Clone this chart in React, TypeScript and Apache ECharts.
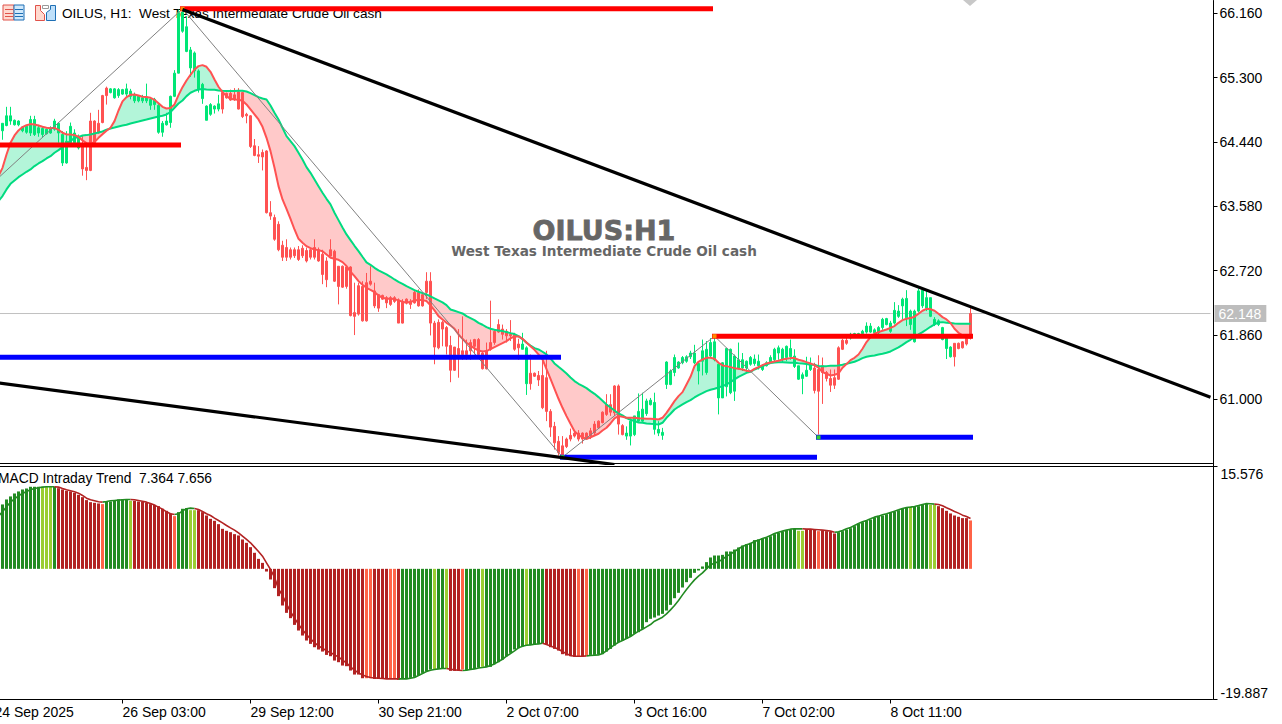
import React, { useEffect, useRef } from "react";
import * as echarts from "echarts";

const FONT = "'Liberation Sans', Arial, sans-serif";
const BULL = "#00E676";
const BEAR = "#FF5252";
const SLOTS = 308;
const FIRST = 4;

const timeTicks: [number, string][] = [
  [3, "24 Sep 2025"], [35, "26 Sep 03:00"], [67, "29 Sep 12:00"], [99, "30 Sep 21:00"],
  [131, "2 Oct 07:00"], [163, "3 Oct 16:00"], [195, "7 Oct 02:00"], [227, "8 Oct 11:00"],
];
const priceTicks = [66.16, 65.3, 64.44, 63.58, 62.72, 61.86, 61.0];
const macdTicks = [-19.887, 15.576];
const lastPrice = 62.148;

// open, close, low, high
const ohlc = [
[64.43,64.52,64.40,64.56],[64.59,64.69,64.47,64.69],[64.66,64.79,64.65,64.91],[64.72,64.79,64.67,64.91],[64.67,64.73,64.66,64.74],[64.67,64.72,64.65,64.73],[64.59,64.64,64.57,64.65],[64.57,64.65,64.55,64.66],[64.56,64.74,64.52,64.79],[64.54,64.74,64.52,64.79],
[64.56,64.63,64.51,64.67],[64.54,64.62,64.50,64.65],[64.55,64.61,64.54,64.62],[64.56,64.63,64.55,64.65],[64.61,64.72,64.59,64.75],[64.56,64.69,64.43,64.70],[64.16,64.54,64.12,64.585],[64.16,64.45,64.15,64.585],[64.43,64.65,64.385,64.70],[64.43,64.56,64.41,64.61],
[64.36,64.52,64.34,64.54],[64.385,64.08,63.99,64.52],[64.10,64.06,63.93,64.385],[64.06,64.72,64.05,64.83],[64.43,64.72,64.42,64.73],[64.56,64.69,64.55,64.87],[64.70,65.06,64.69,65.07],[65.06,65.16,64.94,65.18],[65.10,65.15,65.09,65.16],[65.03,65.15,65.02,65.16],
[65.06,65.14,65.03,65.16],[65.08,65.14,65.07,65.15],[65.08,65.15,65.03,65.22],[65.05,65.12,65.01,65.15],[64.99,65.07,64.96,65.10],[64.99,65.05,64.97,65.06],[64.99,65.03,64.96,65.07],[64.99,65.04,64.96,65.22],[64.93,65.01,64.87,65.04],[64.94,65.01,64.87,65.03],
[64.57,64.93,64.55,64.96],[64.57,64.69,64.51,64.72],[64.67,64.72,64.66,64.83],[64.70,65.05,64.63,65.06],[65.05,65.36,65.04,65.40],[65.36,66.17,65.356,66.21],[65.92,66.17,65.90,66.22],[65.65,65.98,65.64,66.12],[65.43,65.67,65.31,65.71],[65.39,65.63,65.30,65.65],
[65.14,65.39,65.10,65.41],[65.02,65.21,64.95,65.23],[64.73,64.92,64.73,64.93],[64.81,64.94,64.79,64.96],[64.88,64.92,64.82,64.93],[64.88,64.95,64.85,65.07],[64.88,65.10,64.82,65.12],[65.03,65.09,65.02,65.10],[65.0,65.09,64.99,65.14],[65.01,65.07,64.99,65.16],
[64.88,65.11,64.875,65.16],[64.78,65.10,64.76,65.11],[64.79,64.81,64.69,64.83],[64.38,64.79,64.36,64.80],[64.26,64.39,64.25,64.48],[64.25,64.27,64.16,64.385],[64.24,64.30,64.06,64.34],[63.495,64.32,63.485,64.33],[63.45,63.495,63.40,63.65],[63.14,63.43,63.12,63.47],
[63.0,63.34,62.98,63.38],[62.90,63.06,62.85,63.12],[62.90,63.03,62.85,63.14],[62.90,63.0,62.87,63.03],[62.92,63.0,62.89,63.03],[62.87,63.0,62.85,63.05],[62.92,63.02,62.89,63.06],[62.85,62.99,62.83,63.03],[62.90,63.0,62.87,63.02],[62.90,63.03,62.87,63.14],
[62.85,63.0,62.84,63.03],[62.67,62.94,62.54,63.0],[62.60,62.85,62.50,62.90],[62.915,63.0,62.91,63.14],[62.58,62.98,62.57,63.0],[62.51,62.78,62.27,62.78],[62.50,62.78,62.49,62.79],[62.51,62.77,62.48,62.78],[62.12,62.77,62.11,62.78],[62.11,62.16,61.86,62.56],
[62.14,62.52,62.12,62.56],[62.05,62.51,62.04,62.58],[62.05,62.56,62.04,62.69],[62.54,62.58,62.52,62.78],[62.25,62.45,62.22,62.56],[62.22,62.40,62.17,62.41],[62.34,62.39,62.33,62.40],[62.29,62.36,62.22,62.38],[62.27,62.36,62.25,62.38],[62.31,62.36,62.29,62.38],
[62.02,62.33,62.02,62.35],[62.02,62.30,62.015,62.34],[62.29,62.34,62.27,62.35],[62.27,62.31,62.21,62.34],[62.29,62.43,62.28,62.45],[62.25,62.43,62.24,62.47],[62.25,62.40,62.24,62.43],[62.43,62.58,62.34,62.70],[62.02,62.58,61.855,62.70],[61.70,62.02,61.47,62.05],
[61.69,62.03,61.67,62.07],[61.94,62.03,61.71,62.05],[61.71,61.96,61.60,61.98],[61.39,61.72,61.23,61.85],[61.39,61.70,61.38,61.70],[61.60,61.68,61.29,61.94],[61.60,61.65,61.53,62.11],[61.60,61.65,61.53,61.80],[61.65,61.76,61.53,61.80],[61.71,61.80,61.60,61.81],
[61.60,61.80,61.58,61.82],[61.41,61.62,61.40,61.65],[61.41,61.65,61.40,61.76],[61.67,61.76,61.65,62.32],[61.76,61.91,61.73,61.94],[61.90,62.0,61.89,62.07],[61.87,61.94,61.80,62.0],[61.85,61.91,61.76,61.94],[61.85,61.87,61.78,62.06],[61.67,61.87,61.65,61.89],
[61.69,61.74,61.53,61.81],[61.67,61.74,61.67,61.89],[61.21,61.69,61.06,61.71],[61.21,61.35,61.13,61.60],[61.31,61.35,61.30,61.36],[61.26,61.32,61.18,61.38],[60.89,61.32,60.87,61.56],[60.84,61.29,60.71,61.65],[60.63,60.84,60.50,60.87],[60.42,60.64,60.33,60.70],
[60.29,60.44,60.25,60.51],[60.26,60.38,60.24,60.51],[60.37,60.47,60.35,60.49],[60.47,60.52,60.44,60.61],[60.51,60.55,60.49,60.58],[60.47,60.55,60.44,60.59],[60.47,60.55,60.41,60.56],[60.47,60.55,60.46,60.56],[60.51,60.58,60.47,60.62],[60.55,60.67,60.51,60.71],
[60.62,60.71,60.61,60.72],[60.69,60.83,60.68,60.84],[60.80,60.93,60.78,61.07],[60.83,60.93,60.78,61.07],[60.82,61.18,60.78,61.19],[60.67,61.18,60.53,61.20],[60.53,60.65,60.52,60.67],[60.51,60.55,60.46,60.64],[60.51,60.71,60.385,60.75],[60.53,60.78,60.51,60.78],
[60.71,60.84,60.70,61.08],[60.71,60.87,60.70,61.09],[60.81,60.98,60.78,61.01],[60.93,60.99,60.92,61.02],[60.60,60.96,60.53,61.09],[60.55,60.60,60.51,60.71],[60.52,60.56,60.46,60.62],[61.20,61.50,61.14,61.51],[61.20,61.38,61.19,61.40],[61.36,61.56,61.31,61.60],
[61.42,61.50,61.41,61.51],[61.49,61.56,61.47,61.58],[61.51,61.57,61.49,61.59],[61.57,61.62,61.54,61.65],[61.49,61.62,61.47,61.73],[61.38,61.48,61.20,61.51],[61.51,61.65,61.32,61.80],[61.36,61.67,61.33,61.78],[61.58,61.76,61.56,61.82],[61.53,61.77,61.51,61.82],
[61.02,61.47,60.80,61.48],[61.02,61.49,61.02,61.50],[61.17,61.68,61.04,61.69],[61.09,61.67,61.07,61.68],[61.11,61.58,60.98,61.60],[61.42,61.53,61.40,61.76],[61.42,61.53,61.38,61.62],[61.42,61.51,61.36,61.52],[61.47,61.56,61.45,61.58],[61.48,61.54,61.45,61.60],
[61.45,61.51,61.40,61.60],[61.40,61.45,61.38,61.47],[61.45,61.49,61.44,61.51],[61.50,61.56,61.48,61.59],[61.53,61.67,61.49,61.69],[61.62,61.69,61.53,61.72],[61.53,61.67,61.49,61.69],[61.56,61.71,61.51,61.72],[61.57,61.68,61.53,61.80],[61.44,61.58,61.42,61.67],
[61.27,61.45,61.26,61.45],[61.28,61.33,61.07,61.36],[61.31,61.39,61.30,61.57],[61.40,61.48,61.38,61.56],[61.12,61.42,61.08,61.49],[61.11,61.40,60.53,61.59],[61.36,61.45,60.94,61.56],[61.28,61.36,61.24,61.38],[61.19,61.28,61.10,61.40],[61.19,61.29,61.14,61.40],
[61.27,61.69,61.26,61.71],[61.67,61.79,61.66,61.81],[61.75,61.79,61.73,61.87],[61.82,61.87,61.80,61.89],[61.85,61.88,61.84,61.89],[61.85,61.88,61.84,61.89],[61.88,61.91,61.87,61.93],[61.90,61.98,61.88,62.03],[61.90,61.98,61.89,62.02],[61.89,61.93,61.88,61.95],
[61.89,61.96,61.87,61.98],[61.96,62.07,61.93,62.09],[62.0,62.08,61.99,62.09],[61.91,62.02,61.89,62.05],[62.02,62.19,62.0,62.30],[62.11,62.18,62.09,62.26],[62.25,62.34,62.07,62.36],[62.09,62.35,61.98,62.46],[62.0,62.18,61.93,62.20],[61.77,62.18,61.76,62.20],
[62.18,62.45,62.16,62.48],[62.25,62.46,62.22,62.47],[62.22,62.36,62.18,62.45],[62.11,62.36,62.10,62.36],[62.0,62.07,61.98,62.10],[62.0,62.05,61.98,62.07],[61.80,61.96,61.79,61.97],[61.68,61.82,61.54,61.82],[61.57,61.70,61.56,61.71],[61.57,61.75,61.44,61.75],
[61.68,61.75,61.67,61.76],[61.69,61.77,61.68,61.78],[61.74,61.82,61.72,61.85],[61.82,62.148,61.80,62.22],
];

const fastMa = [
63.984,64.095,64.273,64.429,64.527,64.594,64.639,64.665,64.679,64.674,64.661,64.643,64.630,64.625,64.630,64.603,64.563,64.541,64.541,64.532,64.510,64.461,64.425,64.416,64.438,64.496,64.545,64.590,64.630,64.719,
64.861,64.982,65.040,65.071,65.075,65.062,65.044,65.040,65.031,65.004,64.959,64.910,64.888,64.893,64.942,65.066,65.173,65.262,65.338,65.409,65.454,65.467,65.445,65.378,65.276,65.178,65.107,65.053,65.017,65.008,
65.004,64.991,64.942,64.875,64.808,64.741,64.643,64.496,64.318,64.095,63.850,63.672,63.547,63.414,63.271,63.146,63.093,63.048,63.022,63.004,62.995,62.981,62.937,62.893,62.880,62.866,62.835,62.782,62.706,62.648,
62.581,62.532,62.492,62.465,62.434,62.390,62.358,62.345,62.345,62.341,62.323,62.305,62.292,62.305,62.318,62.332,62.327,62.314,62.256,62.189,62.113,62.069,62.024,61.989,61.944,61.868,61.810,61.757,61.721,61.681,
61.654,61.641,61.646,61.672,61.699,61.726,61.752,61.779,61.815,61.842,61.842,61.810,61.761,61.712,61.663,61.601,61.534,61.405,61.276,61.142,61.009,60.888,60.777,60.674,60.576,60.523,60.492,60.474,60.492,60.518,
60.541,60.585,60.621,60.679,60.746,60.777,60.768,60.755,60.755,60.755,60.750,60.746,60.741,60.741,60.737,60.732,60.755,60.821,60.897,60.977,61.044,61.098,61.200,61.302,61.445,61.503,61.534,61.556,61.556,61.543,
61.490,61.454,61.445,61.432,61.418,61.409,61.400,61.383,61.374,61.409,61.432,61.458,61.481,61.494,61.507,61.516,61.534,61.543,61.552,61.552,61.530,61.516,61.498,61.481,61.458,61.423,61.365,61.343,61.320,61.329,
61.347,61.423,61.472,61.525,61.556,61.601,61.677,61.766,61.833,61.877,61.899,61.917,61.935,61.957,61.980,62.024,62.060,62.078,62.087,62.104,62.144,62.185,62.211,62.207,62.185,62.144,62.100,62.069,62.022,61.944,
61.891,61.855,61.824,61.824,
];

const slowMa = [
63.650,63.717,63.806,63.881,63.926,63.970,64.006,64.042,64.073,64.118,64.153,64.184,64.220,64.251,64.296,64.331,64.371,64.416,64.456,64.492,64.505,64.527,64.532,64.541,64.554,64.567,64.581,64.603,64.621,64.634,
64.648,64.661,64.670,64.688,64.701,64.714,64.728,64.741,64.755,64.768,64.781,64.790,64.808,64.839,64.897,64.955,64.995,65.053,65.098,65.124,65.142,65.147,65.142,65.138,65.138,65.129,65.124,65.120,65.120,65.120,
65.124,65.124,65.115,65.093,65.066,65.040,65.022,65.008,64.928,64.830,64.741,64.630,64.518,64.452,64.385,64.296,64.207,64.104,64.028,63.939,63.850,63.761,63.681,63.606,63.494,63.396,63.298,63.205,63.129,63.053,
62.982,62.906,62.831,62.799,62.759,62.724,62.697,62.670,62.639,62.603,62.572,62.545,62.514,62.488,62.461,62.439,62.421,62.403,62.376,62.349,62.323,62.296,62.260,62.202,62.185,62.167,62.149,62.113,62.087,62.060,
62.024,61.998,61.966,61.944,61.931,61.922,61.913,61.900,61.886,61.873,61.846,61.806,61.757,61.721,61.686,61.668,61.637,61.601,61.548,61.481,61.436,61.392,61.347,61.294,61.245,61.209,61.182,61.151,61.111,61.075,
61.031,60.982,60.933,60.893,60.853,60.812,60.786,60.750,60.728,60.710,60.692,60.688,60.679,60.674,60.670,60.665,60.688,60.755,60.808,60.866,60.902,60.933,60.964,60.991,61.026,61.058,61.084,61.111,61.129,61.142,
61.160,61.178,61.200,61.231,61.267,61.302,61.329,61.356,61.369,61.400,61.423,61.445,61.467,61.485,61.494,61.498,61.498,61.494,61.490,61.490,61.485,61.481,61.472,61.463,61.463,61.445,61.445,61.445,61.450,61.450,
61.454,61.463,61.476,61.490,61.503,61.525,61.552,61.570,61.579,61.588,61.601,61.610,61.623,61.641,61.668,61.695,61.730,61.766,61.797,61.833,61.868,61.899,61.935,61.971,62.002,62.029,62.033,62.024,62.020,62.015,
62.011,62.011,62.011,62.011,
];

const macdHist = [
8.63,9.80,10.56,11.02,11.47,11.78,12.08,12.23,12.49,12.49,12.49,12.49,12.49,12.49,12.49,12.28,12.08,11.88,11.78,11.57,11.27,10.91,10.46,10.15,10.05,9.95,9.85,10.25,10.25,10.46,
10.56,10.56,10.56,10.36,10.36,10.25,10.25,10.05,9.85,9.75,9.54,9.14,8.83,8.43,8.02,8.63,9.14,9.24,8.93,8.93,8.93,8.63,8.12,7.61,7.31,6.80,6.09,5.79,5.58,5.28,
5.08,4.47,3.96,3.30,2.44,1.52,0.91,-0.41,-1.62,-2.94,-4.16,-5.58,-6.70,-7.51,-8.53,-9.39,-10.15,-10.91,-11.42,-11.93,-12.28,-12.59,-13.10,-13.30,-13.96,-14.21,-14.72,-14.82,-15.48,-16.09,
-16.09,-16.65,-16.65,-16.65,-16.75,-16.75,-16.75,-16.65,-16.65,-16.65,-16.90,-16.75,-16.75,-16.60,-16.45,-16.24,-15.84,-15.58,-15.33,-15.33,-15.23,-15.23,-15.13,-15.53,-15.53,-15.48,-15.33,-15.43,-15.33,-15.23,
-15.02,-14.92,-14.92,-14.92,-14.52,-14.21,-13.81,-13.30,-12.79,-12.28,-12.08,-11.83,-11.67,-11.57,-11.57,-11.42,-11.32,-11.57,-11.93,-12.18,-12.44,-12.99,-13.20,-13.30,-13.40,-13.40,-13.35,-13.20,-13.10,-13.10,
-12.99,-12.99,-12.59,-12.18,-11.67,-11.17,-10.91,-10.66,-10.25,-9.90,-9.64,-9.14,-8.12,-7.61,-7.41,-7.11,-6.85,-6.35,-5.48,-4.47,-3.65,-2.84,-2.03,-1.37,-0.61,-0.25,0.36,1.02,1.73,2.03,
2.03,2.13,2.64,2.64,2.94,3.25,3.55,3.76,3.96,4.37,4.47,4.67,4.77,4.97,5.28,5.48,5.69,5.89,5.99,6.09,5.79,5.79,5.99,5.99,5.99,5.74,5.84,5.74,5.63,5.38,
5.58,5.74,5.99,6.19,6.50,6.85,7.11,7.31,7.51,7.82,8.02,8.12,8.32,8.53,8.73,8.93,9.14,9.34,9.44,9.44,9.54,9.75,9.95,9.75,9.75,9.54,9.24,8.83,8.43,8.12,
7.92,7.72,7.72,7.364,
];

const macdSignal = [
8.02,8.68,9.44,10.15,10.66,11.12,11.47,11.78,12.03,12.23,12.33,12.44,12.49,12.49,12.49,12.44,12.23,12.03,11.88,11.73,11.52,11.17,10.76,10.51,10.36,10.20,10.15,10.25,10.36,10.41,
10.46,10.51,10.56,10.56,10.51,10.41,10.30,10.15,9.95,9.70,9.39,9.09,8.68,8.38,8.27,8.38,8.83,9.14,9.24,9.19,9.04,8.73,8.38,8.12,7.72,7.36,7.00,6.60,6.24,5.89,
5.48,4.97,4.47,3.96,3.30,2.64,1.93,0.91,-0.10,-1.27,-3.05,-4.06,-5.33,-6.50,-7.51,-8.43,-9.29,-10.00,-10.66,-11.22,-11.73,-12.08,-12.49,-12.74,-13.10,-13.40,-13.91,-14.31,-14.92,-15.43,
-15.84,-16.14,-16.40,-16.55,-16.60,-16.65,-16.70,-16.75,-16.75,-16.75,-16.75,-16.75,-16.75,-16.65,-16.55,-16.24,-15.94,-15.63,-15.43,-15.33,-15.23,-15.18,-15.18,-15.28,-15.38,-15.43,-15.48,-15.43,-15.33,-15.23,
-15.08,-15.02,-14.92,-14.72,-14.47,-14.11,-13.76,-13.30,-12.89,-12.49,-12.03,-11.78,-11.62,-11.57,-11.47,-11.42,-11.32,-11.52,-11.73,-11.98,-12.23,-12.59,-12.94,-13.20,-13.30,-13.30,-13.30,-13.25,-13.20,-13.15,
-13.10,-12.89,-12.49,-11.98,-11.57,-11.17,-10.91,-10.61,-10.30,-9.90,-9.49,-9.19,-8.83,-8.48,-7.97,-7.66,-7.36,-6.85,-6.24,-5.58,-4.82,-3.96,-3.15,-2.39,-1.68,-1.12,-0.61,0,0.61,0.86,
1.12,1.42,1.93,2.23,2.64,3.05,3.40,3.65,3.86,4.16,4.37,4.62,4.82,5.08,5.38,5.58,5.74,5.89,6.04,6.09,6.09,6.09,6.04,6.04,5.99,5.94,5.89,5.84,5.74,5.58,
5.63,5.84,6.09,6.29,6.60,6.90,7.16,7.36,7.61,7.87,8.02,8.22,8.38,8.58,8.78,8.98,9.19,9.34,9.39,9.49,9.64,9.80,9.95,9.90,9.85,9.80,9.59,9.29,9.04,8.73,
8.48,8.17,7.97,7.656,
];

// run lengths of histogram colour kinds: G forest, Y yellow-green, R firebrick, T tomato
const histKindRuns: [number, string][] = [
  [11,"G"],[3,"Y"],[1,"G"],[11,"R"],[1,"T"],[6,"G"],[1,"Y"],[10,"R"],[1,"T"],[3,"G"],[2,"Y"],[42,"R"],[2,"T"],[4,"R"],[2,"T"],[1,"R"],
  [8,"G"],[1,"Y"],[2,"G"],[1,"Y"],[3,"R"],[1,"T"],[4,"G"],[1,"Y"],[10,"G"],[1,"Y"],[4,"G"],[8,"R"],[1,"T"],[1,"R"],[1,"T"],[52,"G"],
  [2,"Y"],[3,"R"],[1,"T"],[4,"R"],[18,"G"],[1,"Y"],[4,"G"],[2,"Y"],[8,"R"],[1,"T"],
];
const histColors: Record<string, string> = { G: "#228B22", Y: "#9ACD32", R: "#B22222", T: "#FF6347" };

// horizontal levels: from slot, to slot, price, colour
const levels: [number, number, number, string][] = [
  [50, 182, 66.22, "#FF0000"],
  [0, 49, 64.4, "#FF0000"],
  [0, 144, 61.565, "#0000FF"],
  [183, 247, 61.845, "#FF0000"],
  [209, 247, 60.493, "#0000FF"],
  [145, 208, 60.228, "#0000FF"],
];
const trendLines: [number, number][][] = [
  [[50, 66.21], [307, 61.03]],
  [[0, 61.25], [158, 60.129]],
];
// zigzag: slot, price, marker colour
const zigzag: [number, number, string | null][] = [
  [0, 63.766, null], [50, 66.22, "#FF8C00"], [145, 60.228, "#32CD32"], [183, 61.845, "#FF8C00"], [209, 60.493, "#32CD32"],
];

const titleLine = "OILUS, H1:  West Texas Intermediate Crude Oil cash";
const macdLine = "MACD Intraday Trend  7.364 7.656";
const bigLabel = "OILUS:H1";
const subLabel = "West Texas Intermediate Crude Oil cash";

const categories: string[] = Array.from({ length: SLOTS }, (_, i) => {
  const t = timeTicks.find((x) => x[0] === i);
  return t ? t[1] : "";
});
const pad = (i: number, v: any) => [i + FIRST, v];

const histKinds: string[] = [];
histKindRuns.forEach(([n, k]) => { for (let i = 0; i < n; i++) histKinds.push(k); });
const isGreenKind = (k: string) => k === "G" || k === "Y";

// contiguous fast/slow runs for the band between the averages
type Run = { start: number; end: number; up: boolean };
const runs: Run[] = [];
fastMa.forEach((f, i) => {
  const up = f >= slowMa[i];
  const last = runs[runs.length - 1];
  if (last && last.up === up) last.end = i;
  else runs.push({ start: i, end: i, up });
});

function renderFill(params: any, api: any) {
  const run = runs[params.dataIndex];
  const F = (i: number) => api.coord([i + FIRST, fastMa[i]]);
  const S = (i: number) => api.coord([i + FIRST, slowMa[i]]);
  const cross = (i: number) => {
    const a = F(i), b = F(i + 1), c = S(i), d = S(i + 1);
    const d0 = a[1] - c[1], d1 = b[1] - d[1];
    const t = d0 / (d0 - d1);
    return [a[0] + (b[0] - a[0]) * t, a[1] + (b[1] - a[1]) * t];
  };
  const pts: number[][] = [];
  if (run.start > 0) pts.push(cross(run.start - 1));
  for (let i = run.start; i <= run.end; i++) pts.push(F(i));
  if (run.end < fastMa.length - 1) pts.push(cross(run.end));
  for (let i = run.end; i >= run.start; i--) pts.push(S(i));
  return {
    type: "polygon",
    shape: { points: pts },
    style: { fill: run.up ? "#B3F5D9" : "#FFC9C9", stroke: "none" },
    silent: true,
  };
}

export default function App() {
  const ref = useRef<HTMLDivElement>(null);
  useEffect(() => {
    document.body.style.margin = "0";
    document.body.style.overflow = "hidden";
    const chart = echarts.init(ref.current!, null, { renderer: "svg" });
    const X = (x: number) => x + 20;
    const showTick = (_: number, v: string) => v !== "";

    const candleData = ohlc.map((r, i) => {
      const col = fastMa[i] >= slowMa[i] ? BULL : BEAR;
      return {
        value: [i + FIRST, r[0], r[1], r[2], r[3]],
        itemStyle: { color: col, color0: col, borderColor: col, borderColor0: col },
      };
    });
    const greenSig = macdSignal.map((v, i) =>
      pad(i, isGreenKind(histKinds[i]) || (histKinds[i + 1] !== undefined && isGreenKind(histKinds[i + 1])) ? v : null));
    const redSig = macdSignal.map((v, i) =>
      pad(i, !isGreenKind(histKinds[i]) || (histKinds[i + 1] !== undefined && !isGreenKind(histKinds[i + 1])) ? v : null));

    const lineBase = { type: "line", showSymbol: false, symbol: "none", silent: true, smooth: false };
    const series: any[] = [
      {
        ...lineBase, name: "price", z: 1, clip: false,
        data: [[0, lastPrice], [SLOTS - 1, lastPrice]],
        lineStyle: { color: "#C0C0C0", width: 1 },
        endLabel: {
          show: true, distance: 4, formatter: lastPrice.toFixed(3), color: "#fff", fontFamily: FONT, fontSize: 14,
          backgroundColor: "#BDBDBD", padding: [2, 5, 1, 4],
        },
      },
      {
        type: "custom", name: "band", z: 1, renderItem: renderFill, silent: true,
        data: runs.map((_, i) => [i + FIRST, 62]), encode: { x: 0, y: 1 },
      },
      {
        type: "candlestick", name: "OILUS", z: 2, barWidth: 2, silent: true,
        encode: { x: 0, y: [1, 2, 3, 4] },
        itemStyle: { borderWidth: 1 },
        data: candleData,
      },
      { ...lineBase, name: "slow", z: 3, data: slowMa.map((v, i) => pad(i, v)), lineStyle: { color: "#00DB80", width: 2 } },
      { ...lineBase, name: "fast", z: 3, data: fastMa.map((v, i) => pad(i, v)), lineStyle: { color: BEAR, width: 2 } },
      {
        ...lineBase, name: "zigzag", z: 4, showSymbol: true, showAllSymbol: true, symbol: "rect", symbolSize: 4,
        lineStyle: { color: "#808080", width: 1 },
        data: zigzag.map(([k, p, c]) => ({
          value: [k, p],
          symbol: c ? "rect" : "none",
          itemStyle: { color: c || "#808080" },
        })),
      },
      ...levels.map(([a, b, p, c], i) => ({
        ...lineBase, name: "level" + i, z: 4,
        data: [[a, p], [b, p]],
        lineStyle: { color: c, width: 5, cap: "square" },
      })),
      ...trendLines.map((d, i) => ({
        ...lineBase, name: "trend" + i, z: 5,
        data: d,
        lineStyle: { color: "#000", width: 3.2 },
      })),
      {
        type: "bar", name: "hist", xAxisIndex: 1, yAxisIndex: 1, barWidth: 3, silent: true,
        data: macdHist.map((v, i) => ({ value: [i + FIRST, v], itemStyle: { color: histColors[histKinds[i]] } })),
      },
      { ...lineBase, name: "sigGreen", xAxisIndex: 1, yAxisIndex: 1, z: 3, data: greenSig, lineStyle: { color: "#228B22", width: 1.6 } },
      { ...lineBase, name: "sigRed", xAxisIndex: 1, yAxisIndex: 1, z: 3, data: redSig, lineStyle: { color: "#B22222", width: 1.6 } },
    ];

    chart.setOption({
      animation: false,
      backgroundColor: "#fff",
      grid: [
        { left: 0.5, top: 0.5, width: 1232, height: 463, containLabel: false },
        { left: 0.5, top: 466.5, width: 1232, height: 233, containLabel: false },
      ],
      xAxis: [
        {
          type: "category", gridIndex: 0, data: categories, boundaryGap: true,
          axisLine: { show: true, lineStyle: { color: "#000", width: 1 } },
          axisTick: { show: false }, axisLabel: { show: false }, splitLine: { show: false },
        },
        {
          type: "category", gridIndex: 1, data: categories, boundaryGap: true,
          axisLine: { show: true, onZero: false, lineStyle: { color: "#000", width: 1 } },
          axisTick: { show: true, alignWithLabel: true, length: 4, interval: showTick, lineStyle: { color: "#000" } },
          axisLabel: {
            show: true, interval: showTick, align: "left", margin: 5, color: "#000",
            fontFamily: FONT, fontSize: 14, hideOverlap: false,
          },
          splitLine: { show: false },
        },
      ],
      yAxis: [
        {
          type: "value", gridIndex: 0, position: "right", offset: 1,
          min: 60.1438, max: 66.3308, scale: true,
          axisLine: { show: true, lineStyle: { color: "#000", width: 1 } },
          axisTick: { show: true, length: 4, customValues: priceTicks, lineStyle: { color: "#000" } },
          axisLabel: {
            show: true, margin: 6, color: "#000", fontFamily: FONT, fontSize: 14,
            customValues: priceTicks, formatter: (v: number) => v.toFixed(3),
          },
          splitLine: { show: false },
        },
        {
          type: "value", gridIndex: 1, position: "right", offset: 1,
          min: -19.887, max: 15.576,
          axisLine: { show: true, onZero: false, lineStyle: { color: "#000", width: 1 } },
          axisTick: { show: true, length: 4, customValues: macdTicks, lineStyle: { color: "#000" } },
          axisLabel: {
            show: true, margin: 7, color: "#000", fontFamily: FONT, fontSize: 14,
            customValues: macdTicks, formatter: (v: number) => v.toFixed(3),
            verticalAlignMinLabel: "bottom", verticalAlignMaxLabel: "top",
          },
          splitLine: { show: false },
        },
      ],
      series,
      graphic: [
        { type: "line", z: 10, shape: { x1: X(0), y1: 466.5, x2: X(1214), y2: 466.5 }, style: { stroke: "#000", lineWidth: 1 } },
        { type: "line", z: 10, shape: { x1: X(1213.5), y1: 463, x2: X(1213.5), y2: 467 }, style: { stroke: "#000", lineWidth: 1 } },
        { type: "polygon", z: 0, shape: { points: [[X(963), 0], [X(977), 0], [X(970), 6]] }, style: { fill: "#C8C8C8" } },
        { type: "text", z: 0, x: X(62), y: 6, style: { text: titleLine, fontFamily: FONT, fontSize: 13.6, fill: "#000" } },
        { type: "text", z: 6, x: X(-2), y: 471, style: { text: macdLine, fontFamily: FONT, fontSize: 13.8, fill: "#000" } },
        { type: "text", z: 0, x: X(604), y: 230, style: { text: bigLabel, fontFamily: "'DejaVu Sans', sans-serif", fontWeight: "bold", fontSize: 27, fill: "#666", stroke: "#666", lineWidth: 0.8, align: "center", verticalAlign: "middle" } },
        { type: "text", z: 0, x: X(604), y: 251, style: { text: subLabel, fontFamily: "'DejaVu Sans', sans-serif", fontWeight: "bold", fontSize: 13.6, fill: "#666", align: "center", verticalAlign: "middle" } },
        // toolbar icons
        { type: "rect", z: 6, shape: { x: X(3), y: 5, width: 11, height: 15 }, style: { fill: "#FFD9CF", stroke: "#E0524A", lineWidth: 1 } },
        { type: "rect", z: 6, shape: { x: X(14), y: 5, width: 10, height: 15 }, style: { fill: "#CFE8FB", stroke: "#1E6FB5", lineWidth: 1 } },
        ...[9, 13, 16].map((y) => ({ type: "line", z: 7, shape: { x1: X(5), y1: y + 0.5, x2: X(13), y2: y + 0.5 }, style: { stroke: "#E0524A", lineWidth: 1 } })),
        ...[9, 13, 16].map((y) => ({ type: "line", z: 7, shape: { x1: X(15), y1: y + 0.5, x2: X(23), y2: y + 0.5 }, style: { stroke: "#1E6FB5", lineWidth: 1 } })),
        { type: "polygon", z: 6, shape: { points: [[X(35.5), 5.5], [X(40.5), 5.5], [X(40.5), 10.5], [X(44.5), 14.5], [X(44.5), 20.5], [X(35.5), 20.5]] }, style: { fill: "#FFD9CF", stroke: "#E0524A", lineWidth: 1 } },
        { type: "polygon", z: 6, shape: { points: [[X(46.5), 12.5], [X(50.5), 9.5], [X(50.5), 5.5], [X(55.5), 5.5], [X(55.5), 20.5], [X(46.5), 20.5]] }, style: { fill: "#BFE0FA", stroke: "#1E6FB5", lineWidth: 1 } },
        { type: "rect", z: 6, shape: { x: X(42.5), y: 5.5, width: 6, height: 3 }, style: { fill: "#fff", stroke: "#9A9A9A", lineWidth: 1 } },
      ],
    });
    return () => chart.dispose();
  }, []);
  return <div ref={ref} style={{ position: "absolute", left: -20, top: 0, width: 1302, height: 724 }} />;
}
